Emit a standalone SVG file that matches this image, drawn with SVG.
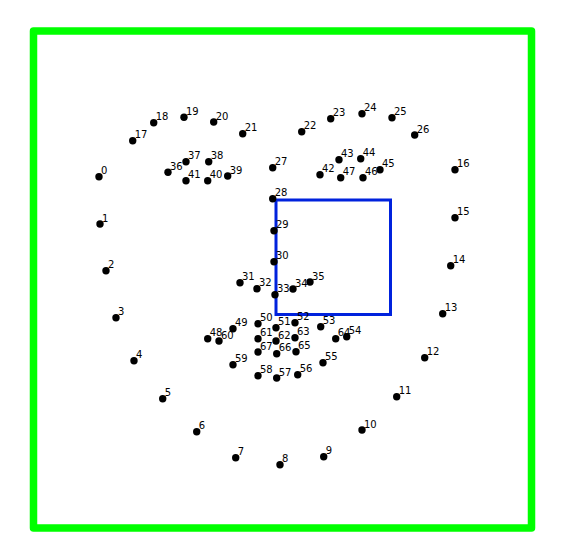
<svg xmlns="http://www.w3.org/2000/svg" width="571" height="558" viewBox="0 0 571 558">
<style>
.pt{fill:#000}
.lb{font-family:"DejaVu Sans",sans-serif;font-size:10px;fill:#000}
</style>
<defs><circle id="d" r="3.7" class="pt"/></defs>
<rect x="0" y="0" width="571" height="558" fill="#fff"/>
<rect id="frame" x="33.5" y="31" width="498" height="497" fill="none" stroke="#00ff00" stroke-width="7.5" stroke-linejoin="round"/>
<rect id="box" x="276" y="200" width="114.5" height="114.5" fill="none" stroke="#0022dd" stroke-width="3"/>
<g id="connectors"/>
<g id="p0"><use href="#d" x="99" y="176.7"/><text class="lb" x="101" y="174.2">0</text></g>
<g id="p1"><use href="#d" x="100" y="224"/><text class="lb" x="102" y="221.5">1</text></g>
<g id="p2"><use href="#d" x="106" y="270.7"/><text class="lb" x="108" y="268.2">2</text></g>
<g id="p3"><use href="#d" x="116" y="317.7"/><text class="lb" x="118" y="315.2">3</text></g>
<g id="p4"><use href="#d" x="134" y="360.7"/><text class="lb" x="136" y="358.2">4</text></g>
<g id="p5"><use href="#d" x="162.7" y="398.7"/><text class="lb" x="164.7" y="396.2">5</text></g>
<g id="p6"><use href="#d" x="196.7" y="431.7"/><text class="lb" x="198.7" y="429.2">6</text></g>
<g id="p7"><use href="#d" x="235.7" y="457.7"/><text class="lb" x="237.7" y="455.2">7</text></g>
<g id="p8"><use href="#d" x="280" y="464.7"/><text class="lb" x="282" y="462.2">8</text></g>
<g id="p9"><use href="#d" x="323.7" y="456.7"/><text class="lb" x="325.7" y="454.2">9</text></g>
<g id="p10"><use href="#d" x="362" y="430"/><text class="lb" x="364" y="427.5">10</text></g>
<g id="p11"><use href="#d" x="396.7" y="396.7"/><text class="lb" x="398.7" y="394.2">11</text></g>
<g id="p12"><use href="#d" x="424.7" y="357.7"/><text class="lb" x="426.7" y="355.2">12</text></g>
<g id="p13"><use href="#d" x="442.7" y="313.7"/><text class="lb" x="444.7" y="311.2">13</text></g>
<g id="p14"><use href="#d" x="450.7" y="265.7"/><text class="lb" x="452.7" y="263.2">14</text></g>
<g id="p15"><use href="#d" x="455" y="217.7"/><text class="lb" x="457" y="215.2">15</text></g>
<g id="p16"><use href="#d" x="455" y="169.7"/><text class="lb" x="457" y="167.2">16</text></g>
<g id="p17"><use href="#d" x="132.7" y="140.7"/><text class="lb" x="134.7" y="138.2">17</text></g>
<g id="p18"><use href="#d" x="153.7" y="122.7"/><text class="lb" x="155.7" y="120.2">18</text></g>
<g id="p19"><use href="#d" x="184" y="117.3"/><text class="lb" x="186" y="114.8">19</text></g>
<g id="p20"><use href="#d" x="213.7" y="122"/><text class="lb" x="215.7" y="119.5">20</text></g>
<g id="p21"><use href="#d" x="242.7" y="133.7"/><text class="lb" x="244.7" y="131.2">21</text></g>
<g id="p22"><use href="#d" x="301.7" y="131.7"/><text class="lb" x="303.7" y="129.2">22</text></g>
<g id="p23"><use href="#d" x="330.7" y="118.7"/><text class="lb" x="332.7" y="116.2">23</text></g>
<g id="p24"><use href="#d" x="362" y="113.7"/><text class="lb" x="364" y="111.2">24</text></g>
<g id="p25"><use href="#d" x="392" y="117.7"/><text class="lb" x="394" y="115.2">25</text></g>
<g id="p26"><use href="#d" x="414.7" y="135"/><text class="lb" x="416.7" y="132.5">26</text></g>
<g id="p27"><use href="#d" x="272.7" y="167.7"/><text class="lb" x="274.7" y="165.2">27</text></g>
<g id="p28"><use href="#d" x="272.7" y="198.7"/><text class="lb" x="274.7" y="196.2">28</text></g>
<g id="p29"><use href="#d" x="274" y="230.7"/><text class="lb" x="276" y="228.2">29</text></g>
<g id="p30"><use href="#d" x="274" y="261.7"/><text class="lb" x="276" y="259.2">30</text></g>
<g id="p31"><use href="#d" x="240" y="282.7"/><text class="lb" x="242" y="280.2">31</text></g>
<g id="p32"><use href="#d" x="257" y="288.7"/><text class="lb" x="259" y="286.2">32</text></g>
<g id="p33"><use href="#d" x="275" y="294.7"/><text class="lb" x="277" y="292.2">33</text></g>
<g id="p34"><use href="#d" x="293" y="289"/><text class="lb" x="295" y="286.5">34</text></g>
<g id="p35"><use href="#d" x="310" y="282"/><text class="lb" x="312" y="279.5">35</text></g>
<g id="p36"><use href="#d" x="168" y="172.3"/><text class="lb" x="170" y="169.8">36</text></g>
<g id="p37"><use href="#d" x="186" y="161.7"/><text class="lb" x="188" y="159.2">37</text></g>
<g id="p38"><use href="#d" x="208.7" y="161.7"/><text class="lb" x="210.7" y="159.2">38</text></g>
<g id="p39"><use href="#d" x="227.7" y="176"/><text class="lb" x="229.7" y="173.5">39</text></g>
<g id="p40"><use href="#d" x="207.7" y="180.7"/><text class="lb" x="209.7" y="178.2">40</text></g>
<g id="p41"><use href="#d" x="186" y="180.7"/><text class="lb" x="188" y="178.2">41</text></g>
<g id="p42"><use href="#d" x="320" y="174.7"/><text class="lb" x="322" y="172.2">42</text></g>
<g id="p43"><use href="#d" x="339" y="159.7"/><text class="lb" x="341" y="157.2">43</text></g>
<g id="p44"><use href="#d" x="360.7" y="158.7"/><text class="lb" x="362.7" y="156.2">44</text></g>
<g id="p45"><use href="#d" x="380" y="169.7"/><text class="lb" x="382" y="167.2">45</text></g>
<g id="p46"><use href="#d" x="363" y="177.7"/><text class="lb" x="365" y="175.2">46</text></g>
<g id="p47"><use href="#d" x="340.7" y="177.7"/><text class="lb" x="342.7" y="175.2">47</text></g>
<g id="p48"><use href="#d" x="207.7" y="338.7"/><text class="lb" x="209.7" y="336.2">48</text></g>
<g id="p49"><use href="#d" x="233" y="328.7"/><text class="lb" x="235" y="326.2">49</text></g>
<g id="p50"><use href="#d" x="258" y="323.7"/><text class="lb" x="260" y="321.2">50</text></g>
<g id="p51"><use href="#d" x="276" y="327.7"/><text class="lb" x="278" y="325.2">51</text></g>
<g id="p52"><use href="#d" x="295" y="322.7"/><text class="lb" x="297" y="320.2">52</text></g>
<g id="p53"><use href="#d" x="320.7" y="326.7"/><text class="lb" x="322.7" y="324.2">53</text></g>
<g id="p54"><use href="#d" x="346.7" y="336.7"/><text class="lb" x="348.7" y="334.2">54</text></g>
<g id="p55"><use href="#d" x="323" y="362.7"/><text class="lb" x="325" y="360.2">55</text></g>
<g id="p56"><use href="#d" x="297.7" y="374.7"/><text class="lb" x="299.7" y="372.2">56</text></g>
<g id="p57"><use href="#d" x="276.7" y="378"/><text class="lb" x="278.7" y="375.5">57</text></g>
<g id="p58"><use href="#d" x="258" y="375.7"/><text class="lb" x="260" y="373.2">58</text></g>
<g id="p59"><use href="#d" x="233" y="364.7"/><text class="lb" x="235" y="362.2">59</text></g>
<g id="p60"><use href="#d" x="219" y="341"/><text class="lb" x="221" y="338.5">60</text></g>
<g id="p61"><use href="#d" x="258" y="338.7"/><text class="lb" x="260" y="336.2">61</text></g>
<g id="p62"><use href="#d" x="276" y="341"/><text class="lb" x="278" y="338.5">62</text></g>
<g id="p63"><use href="#d" x="295" y="337.7"/><text class="lb" x="297" y="335.2">63</text></g>
<g id="p64"><use href="#d" x="335.7" y="338.7"/><text class="lb" x="337.7" y="336.2">64</text></g>
<g id="p65"><use href="#d" x="296" y="351.7"/><text class="lb" x="298" y="349.2">65</text></g>
<g id="p66"><use href="#d" x="276.7" y="353.7"/><text class="lb" x="278.7" y="351.2">66</text></g>
<g id="p67"><use href="#d" x="258" y="352"/><text class="lb" x="260" y="349.5">67</text></g>
</svg>
